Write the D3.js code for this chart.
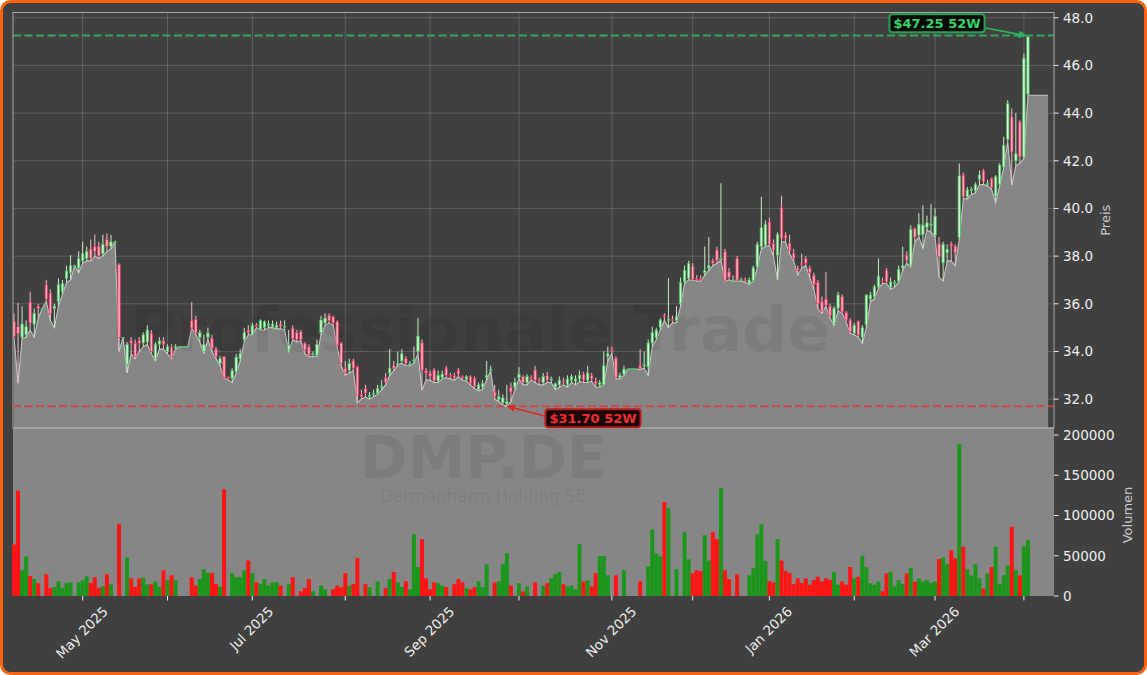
<!DOCTYPE html>
<html><head><meta charset="utf-8">
<script src="https://cdn.jsdelivr.net/npm/d3@7"></script>
<style>body{margin:0;background:#ffffff;} svg{display:block;}</style>
</head><body><svg id="c" width="1147" height="675"></svg>
<script>
// ---------- DATA (one entry per trading day, Apr 2025 – Apr 2026) ----------
const opens = [35.25,35.05,34.6,34.7,36.07,35.15,35.9,35.8,36.8,36.45,35.8,36.1,36.5,37.07,37.3,37.6,37.5,37.8,37.9,38.3,
38.4,38.4,38.1,38.7,38.4,38.6,37.66,34.59,33.46,34.45,34.35,34.45,34.36,34.4,34.77,33.7,34.3,34.45,34.0,34.18,
34.15,34.2,34.2,34.2,35.3,35.35,34.6,34.0,34.6,34.55,34.1,33.5,33.78,32.9,32.88,33.15,33.7,34.5,34.9,34.73,
35.1,34.93,35.0,35.1,35.05,35.0,35.15,35.05,34.06,34.98,34.8,34.83,34.35,34.2,33.86,33.85,34.79,35.2,35.52,35.45,
35.25,34.35,33.3,33.22,33.63,33.35,32.2,32.45,32.1,32.2,32.25,32.5,32.9,33.1,33.4,33.45,33.6,33.7,33.45,33.6,
33.99,34.36,33.2,33.08,33.22,32.77,32.9,33.3,33.0,33.0,33.2,32.95,32.82,32.94,32.88,32.4,32.5,32.9,33.2,32.3,
32.0,31.85,31.8,32.5,32.5,32.9,32.95,32.7,32.9,33.22,32.8,32.7,33.0,32.8,32.5,32.6,32.75,32.6,32.8,32.75,
32.85,33.05,32.8,33.0,32.75,32.6,32.6,33.8,34.1,33.72,32.9,33.05,33.26,33.26,33.26,33.4,33.4,33.35,34.36,34.6,
35.02,35.5,35.3,35.35,35.29,36.0,36.92,37.06,37.58,37.05,37.05,37.3,37.5,37.8,38.25,37.85,38.18,37.34,37.0,37.91,
37.0,37.0,36.83,36.99,37.55,38.39,38.46,39.44,38.53,38.04,40.04,38.88,38.54,38.12,37.5,37.7,37.9,37.5,37.2,36.9,
36.1,36.2,35.9,35.19,35.82,36.3,35.64,35.32,34.77,35.25,34.6,35.11,36.2,36.29,36.71,36.95,37.41,36.69,36.85,36.95,
37.5,38.04,37.62,39.17,38.88,38.9,39.2,39.3,38.88,38.53,37.72,38.14,38.5,38.42,38.78,41.4,40.49,40.75,40.74,41.23,
41.58,41.0,41.26,40.52,41.02,41.74,42.9,43.84,42.0,43.63,42.16,44.8];
const highs = [35.6,36.04,35.9,35.3,36.5,35.8,36.0,35.8,37.0,36.6,36.0,37.07,37.0,37.6,38.04,37.6,38.2,38.6,38.4,38.7,
38.9,38.6,38.9,38.95,38.9,38.6,37.7,34.59,34.4,34.6,34.5,34.6,34.8,35.1,34.9,34.4,34.6,34.6,34.3,34.3,
34.3,34.2,34.2,34.2,36.08,35.5,34.9,34.7,35.0,34.7,34.2,33.8,33.8,32.95,33.3,33.9,34.1,35.0,35.1,35.2,
35.2,35.35,35.3,35.3,35.3,35.25,35.3,35.3,34.9,35.1,34.9,34.9,34.4,34.3,34.0,34.5,35.5,35.6,35.6,35.5,
35.3,34.4,33.6,33.7,33.7,33.4,32.4,32.6,32.3,32.4,32.6,32.8,33.1,34.1,33.6,34.0,34.1,33.8,33.6,34.2,
35.4,34.5,33.3,33.2,33.3,33.2,33.2,33.4,33.1,33.1,33.3,33.0,33.0,33.0,32.95,32.7,32.8,33.6,33.4,32.6,
32.4,32.2,32.6,32.7,32.9,33.35,33.0,33.05,33.0,33.4,32.9,33.1,33.15,32.95,32.7,32.95,32.9,33.0,33.05,33.0,
33.2,33.15,33.4,33.1,32.9,32.8,34.0,34.2,34.2,33.8,33.1,33.4,33.26,33.26,33.26,34.1,34.0,34.5,35.04,35.0,
35.4,35.6,37.08,35.5,35.9,37.1,37.6,37.8,37.7,37.2,37.2,38.4,38.8,37.9,38.4,41.06,38.3,37.5,37.2,38.0,
37.1,37.1,37.1,37.6,38.6,40.49,39.5,39.6,38.7,39.0,40.53,39.0,38.9,38.3,37.6,38.1,38.0,37.6,37.3,37.0,
36.3,37.34,36.0,35.9,36.5,36.4,35.7,35.4,35.2,35.3,35.1,36.4,36.5,36.8,37.9,37.1,37.5,37.1,37.0,37.6,
38.4,38.2,39.3,39.2,39.8,40.14,39.7,40.2,40.0,38.8,38.6,38.5,38.6,38.5,41.89,41.5,40.9,40.9,41.1,41.6,
41.65,41.2,41.3,41.4,41.9,43.0,44.54,44.2,44.0,43.7,46.5,47.25];
const lows = [34.6,32.67,34.55,34.6,34.9,34.6,35.4,35.8,36.1,35.3,35.0,35.9,36.4,36.9,37.0,37.6,37.3,37.7,37.8,37.8,
38.0,37.9,38.0,38.2,38.3,38.6,34.0,34.59,33.1,33.9,33.7,34.0,34.2,34.3,33.9,33.6,34.1,34.1,33.9,33.7,
34.1,34.2,34.2,34.2,34.98,34.7,34.4,33.93,34.5,34.0,33.7,33.4,32.88,32.8,32.69,33.1,33.6,34.4,34.7,34.7,
35.0,34.9,34.9,35.0,35.0,34.95,34.95,34.9,34.0,34.5,34.4,34.45,33.9,33.8,33.77,33.8,34.7,35.1,35.2,35.1,
34.2,33.4,33.0,33.1,33.2,31.85,32.0,32.1,32.0,32.1,32.2,32.4,32.6,33.0,33.2,33.43,33.5,33.4,33.4,33.5,
33.9,32.38,32.8,32.8,32.7,32.7,32.85,32.9,32.85,32.8,32.95,32.8,32.75,32.6,32.45,32.35,32.4,32.8,33.2,32.0,
31.9,31.75,31.7,31.9,32.4,32.85,32.6,32.6,32.8,32.7,32.6,32.6,32.7,32.7,32.4,32.5,32.6,32.5,32.7,32.6,
32.75,32.7,32.7,32.75,32.5,32.5,32.6,33.6,33.9,32.85,32.85,33.0,33.26,33.26,33.26,33.25,33.3,33.0,34.2,34.5,
34.9,35.3,35.0,35.2,35.2,35.9,36.85,37.0,37.0,36.95,36.95,37.2,37.4,37.6,37.7,37.83,36.95,37.0,36.95,36.95,
36.95,36.9,36.8,36.95,37.5,38.3,38.4,38.45,38.0,37.0,38.6,38.6,38.1,37.8,37.2,37.5,37.6,37.1,36.6,35.8,
35.6,35.9,35.4,35.1,35.7,35.6,35.25,34.75,34.7,34.6,34.34,35.0,36.1,36.2,36.65,36.85,36.85,36.6,36.7,36.9,
37.4,37.7,37.55,38.6,38.8,38.33,39.1,39.0,38.8,37.13,36.95,37.8,37.8,37.6,38.7,40.4,40.4,40.6,40.65,41.0,
41.0,40.95,40.8,40.24,40.95,41.7,42.8,40.98,41.8,41.89,42.1,44.75];
const closes = [34.62,34.76,35.15,35.05,35.2,35.6,35.8,35.8,36.2,35.57,35.9,36.8,36.85,37.37,37.6,37.6,37.9,38.1,38.2,37.9,
38.2,38.0,38.5,38.4,38.6,38.6,34.59,34.59,34.3,34.35,33.8,34.35,34.7,34.9,33.99,34.3,34.45,34.3,34.2,33.77,
34.2,34.2,34.2,34.2,34.98,34.77,34.8,34.3,34.77,34.14,33.8,33.7,32.9,32.85,33.19,33.76,33.9,34.8,34.8,35.1,
35.05,35.29,35.25,35.15,35.15,35.1,35.05,35.05,34.27,34.55,34.5,34.5,34.06,33.86,33.9,34.3,35.32,35.4,35.29,35.2,
34.27,33.5,33.1,33.5,33.3,32.17,32.1,32.25,32.17,32.25,32.45,32.55,32.7,33.3,33.3,33.5,33.9,33.5,33.5,33.65,
34.65,33.22,33.1,32.97,32.77,33.0,33.05,33.0,32.95,32.9,33.05,32.9,32.95,32.67,32.52,32.6,32.65,33.0,33.25,32.1,
32.1,32.05,31.9,32.3,32.7,33.05,32.7,32.95,32.85,32.8,32.75,32.95,32.8,32.85,32.65,32.8,32.7,32.85,32.95,32.85,
33.0,32.8,33.1,32.85,32.65,32.7,33.4,33.9,34.05,32.9,33.0,33.26,33.26,33.26,33.26,33.3,33.45,34.36,34.8,34.9,
35.32,35.45,35.35,35.3,35.46,36.9,37.41,37.69,37.03,37.0,37.0,37.4,37.6,37.7,37.83,37.9,36.99,37.1,37.0,36.99,
37.0,36.95,37.0,37.51,38.49,39.2,39.34,38.5,38.25,38.91,38.74,38.75,38.22,37.9,37.4,37.65,37.7,37.3,36.8,36.0,
35.7,35.94,35.5,35.82,36.37,35.66,35.32,34.83,35.1,34.69,35.0,36.37,36.37,36.71,37.16,36.92,36.92,36.92,36.9,37.44,
37.6,37.83,39.12,38.8,39.34,39.3,39.4,39.35,39.68,37.97,38.5,38.28,38.42,38.14,41.37,40.49,40.77,40.8,41.02,41.4,
41.12,41.05,40.88,41.33,41.82,42.65,44.4,42.37,42.3,42.16,46.3,47.2];
const volumes = [64000,131000,32000,49000,25000,21000,16000,0,27000,10000,11200,18300,10000,16000,17000,0,17000,19500,24500,16200,
23300,10000,12000,27000,14600,0,89200,0,48000,22000,11200,22000,23000,14600,14600,18000,11200,32000,19500,25700,
19500,0,0,0,23300,13000,21000,33200,29000,28500,14600,11200,132500,0,28500,23300,23300,32000,44000,28500,
17000,14600,21000,13000,17000,17000,13000,0,14600,23300,0,5800,10000,21000,5800,0,13000,8300,0,8300,
13000,11000,28500,13000,14600,47000,0,14600,11000,0,18000,0,10000,21000,29800,17000,11200,18300,8300,76800,
36000,70600,22000,8300,17000,16000,13000,11200,0,14600,21000,17000,9600,8300,11000,18300,11000,39400,0,17000,
18300,39400,53000,13000,0,16000,5800,12000,0,17000,0,13000,16000,22000,27000,29800,14600,12000,13000,8300,
64300,18300,19500,12000,28500,49400,49400,25700,0,25700,0,32000,0,0,0,18300,0,37000,82500,53000,
49400,116800,109000,0,33200,0,79300,45700,28500,32000,31000,75600,44000,79300,70600,134000,32000,21000,0,27000,
0,0,25700,34400,76800,89200,43500,18300,17000,70600,44000,31000,28500,14600,22000,16000,22000,14000,20000,24000,
18000,22000,20000,30000,14000,18000,14000,36000,22000,24000,50000,36000,16000,14000,18000,6000,28000,30000,12000,20000,
15000,28000,35000,18000,22000,18000,20000,16000,18000,46000,48000,40000,57000,47000,188800,61000,33200,25700,39400,22000,
9200,28000,36000,61000,14600,25700,38200,85900,32000,25700,61800,69400];
// month ticks (trading-day index of first session of each month)
const monthTickIdx = [17,38,59,82,103,125,148,168,187,208,228,250];
const monthTickLabels = ["May 2025","","Jul 2025","","Sep 2025","","Nov 2025","","Jan 2026","","Mar 2026",""];
const priceTicks = [32,34,36,38,40,42,44,46,48];
const volumeTicks = [0,50000,100000,150000,200000];
const high52 = 47.25, low52 = 31.70;
const high52Idx = 251, low52Idx = 122;
const areaPadBars = 5;
const watermark = "Professionale Trade";
const ticker = "DMP.DE", company = "Dermapharm Holding SE";

// ---------- LAYOUT ----------
const W = 1147, H = 675;
const L = 13, R = 1054;
const pTop = 12.5, pBot = 428, vTop = 428, vBot = 596;
const FONT = "DejaVu Sans, sans-serif";
const BG = "#404040", AREA = "#868686";

const svg = d3.select("#c");
const n = closes.length;
const x = d3.scaleLinear().domain([-0.25, 257.45]).range([L, R]);
const y = d3.scaleLinear().domain([30.79, 48.22]).range([pBot, pTop]);
const yv = d3.scaleLinear().domain([0, 208700]).range([vBot, vTop]);

// background with orange rounded frame
svg.append("rect").attr("x",1.5).attr("y",1.5).attr("width",W-3).attr("height",H-3)
  .attr("rx",9).attr("fill",BG).attr("stroke","#fa6410").attr("stroke-width",3);

const defs = svg.append("defs");
defs.append("clipPath").attr("id","pclip").append("rect").attr("x",L).attr("y",pTop).attr("width",R-L).attr("height",pBot-pTop);

// ---------- PRICE PANEL ----------
const gp = svg.append("g").attr("clip-path","url(#pclip)");
gp.selectAll("line.hg").data(priceTicks).join("line")
  .attr("x1",L).attr("x2",R).attr("y1",d=>y(d)).attr("y2",d=>y(d))
  .attr("stroke","#ffffff").attr("stroke-opacity",0.17).attr("stroke-width",1);
gp.selectAll("line.vg").data(monthTickIdx).join("line")
  .attr("x1",d=>x(d)).attr("x2",d=>x(d)).attr("y1",pTop).attr("y2",pBot)
  .attr("stroke","#ffffff").attr("stroke-opacity",0.17).attr("stroke-width",1);

// area under lows
const areaPts = lows.map((l,i)=>[i,l]);
areaPts.push([n-1+areaPadBars, lows[n-1]]);
const area = d3.area().x(d=>x(d[0])).y0(pBot).y1(d=>y(d[1]));
const line = d3.line().x(d=>x(d[0])).y(d=>y(d[1]));
gp.append("path").datum(areaPts).attr("d",area).attr("fill",AREA);
gp.append("path").datum(areaPts).attr("d",line).attr("fill","none")
  .attr("stroke","#c4c4c4").attr("stroke-width",1.1);

// watermark
gp.append("text").attr("x",480).attr("y",351).attr("text-anchor","middle")
  .attr("font-family",FONT).attr("font-weight","bold").attr("font-size",62)
  .attr("textLength",700).attr("lengthAdjust","spacingAndGlyphs")
  .attr("fill","#000").attr("fill-opacity",0.07).text(watermark);

// candles
const bw = 2.4;
const cg = gp.append("g");
const idx = d3.range(n);
cg.selectAll("line.w").data(idx).join("line")
  .attr("x1",i=>x(i)).attr("x2",i=>x(i)).attr("y1",i=>y(highs[i])).attr("y2",i=>y(lows[i]))
  .attr("stroke",i=>closes[i]>=opens[i]?"#c9e8c9":"#ecc2cb").attr("stroke-width",1);
cg.selectAll("rect.b").data(idx).join("rect")
  .attr("x",i=>x(i)-bw/2).attr("width",bw)
  .attr("y",i=>y(Math.max(opens[i],closes[i])))
  .attr("height",i=>Math.max(0.6,Math.abs(y(opens[i])-y(closes[i]))))
  .attr("fill",i=>closes[i]>=opens[i]?"#d6f2d6":"#f6b3c2")
  .attr("stroke",i=>closes[i]>=opens[i]?"#45c05a":"#e8325e").attr("stroke-width",0.8);

// 52W lines
gp.append("line").attr("x1",L).attr("x2",R).attr("y1",y(high52)).attr("y2",y(high52))
  .attr("stroke","#33a85c").attr("stroke-width",2).attr("stroke-dasharray","8,3.5");
gp.append("line").attr("x1",L).attr("x2",R).attr("y1",y(low52)).attr("y2",y(low52))
  .attr("stroke","#d83c3c").attr("stroke-opacity",0.85).attr("stroke-width",2).attr("stroke-dasharray","8,3.5");

// price panel frame
svg.append("rect").attr("x",L).attr("y",pTop).attr("width",R-L).attr("height",pBot-pTop)
  .attr("fill","none").attr("stroke","#a8a8a8").attr("stroke-width",1);

// ---------- VOLUME PANEL ----------
svg.append("rect").attr("x",L).attr("y",vTop).attr("width",R-L).attr("height",vBot-vTop).attr("fill",AREA);
svg.append("text").attr("x",483).attr("y",478).attr("text-anchor","middle")
  .attr("font-family",FONT).attr("font-weight","bold").attr("font-size",58)
  .attr("textLength",247).attr("lengthAdjust","spacingAndGlyphs")
  .attr("fill","#000").attr("fill-opacity",0.07).text(ticker);
svg.append("text").attr("x",483).attr("y",502).attr("text-anchor","middle")
  .attr("font-family",FONT).attr("font-size",18)
  .attr("textLength",206).attr("lengthAdjust","spacingAndGlyphs")
  .attr("fill","#000").attr("fill-opacity",0.07).text(company);
const vbw = 4;
svg.append("g").selectAll("rect").data(idx.filter(i=>volumes[i]>0)).join("rect")
  .attr("x",i=>x(i)-vbw/2).attr("width",vbw)
  .attr("y",i=>yv(volumes[i])).attr("height",i=>vBot-yv(volumes[i]))
  .attr("fill",i=>closes[i]>=opens[i]?"#1b961b":"#ff1414");
svg.append("line").attr("x1",L).attr("x2",R).attr("y1",pBot).attr("y2",pBot)
  .attr("stroke","#a8a8a8").attr("stroke-width",1.6);

// ---------- AXES ----------
const tickCol = "#eeeeee", fs = 13.5;
const pa = svg.append("g");
pa.selectAll("line").data(priceTicks).join("line")
  .attr("x1",R).attr("x2",R+4.5).attr("y1",d=>y(d)).attr("y2",d=>y(d)).attr("stroke",tickCol);
pa.selectAll("text").data(priceTicks).join("text")
  .attr("x",R+9).attr("y",d=>y(d)).attr("dy","0.36em")
  .attr("font-family",FONT).attr("font-size",fs).attr("fill",tickCol).text(d=>d3.format(".1f")(d));
const va = svg.append("g");
va.selectAll("line").data(volumeTicks).join("line")
  .attr("x1",R).attr("x2",R+4.5).attr("y1",d=>yv(d)).attr("y2",d=>yv(d)).attr("stroke",tickCol);
va.selectAll("text").data(volumeTicks).join("text")
  .attr("x",R+9).attr("y",d=>yv(d)).attr("dy","0.36em")
  .attr("font-family",FONT).attr("font-size",fs).attr("fill",tickCol).text(d=>d3.format("d")(d));
svg.append("text").attr("transform",`translate(1110,${(pTop+pBot)/2}) rotate(-90)`)
  .attr("text-anchor","middle").attr("font-family",FONT).attr("font-size",13).attr("fill","#cccccc").text("Preis");
svg.append("text").attr("transform",`translate(1132,${(vTop+vBot)/2+3}) rotate(-90)`)
  .attr("text-anchor","middle").attr("font-family",FONT).attr("font-size",13).attr("fill","#cccccc").text("Volumen");

const xa = svg.append("g");
xa.selectAll("line").data(monthTickIdx).join("line")
  .attr("x1",d=>x(d)).attr("x2",d=>x(d)).attr("y1",vBot).attr("y2",vBot+4.5).attr("stroke",tickCol);
xa.selectAll("text").data(monthTickIdx).join("text")
  .attr("text-anchor","middle").attr("dominant-baseline","central")
  .attr("font-family",FONT).attr("font-size",fs).attr("fill",tickCol)
  .text((d,i)=>monthTickLabels[i])
  .each(function(d){
    const w = this.getComputedTextLength();
    const hh = (w+fs)*Math.SQRT1_2;
    d3.select(this).attr("transform",`translate(${x(d)-1},${604+hh/2}) rotate(-45)`);
  });

// ---------- ANNOTATIONS ----------
function marker(id,col){
  defs.append("marker").attr("id",id).attr("viewBox","0 0 10 10").attr("refX",9).attr("refY",5)
    .attr("markerWidth",8).attr("markerHeight",8).attr("markerUnits","userSpaceOnUse").attr("orient","auto")
    .append("path").attr("d","M0,0L10,5L0,10Z").attr("fill",col);
}
marker("ag","#2fb45a"); marker("ar","#e02828");
function label(txt,cx,cy,fill,stroke,tcol){
  const g = svg.append("g");
  const t = g.append("text").attr("x",cx).attr("y",cy).attr("dy","0.36em").attr("text-anchor","middle")
    .attr("font-family",FONT).attr("font-weight","bold").attr("font-size",13).attr("fill",tcol).text(txt);
  const bb = t.node().getBBox();
  g.insert("rect","text").attr("x",bb.x-4).attr("y",bb.y-1.5).attr("width",bb.width+8).attr("height",bb.height+3)
    .attr("rx",3).attr("fill",fill).attr("stroke",stroke).attr("stroke-width",2);
  return bb;
}
const gb = label("$"+high52.toFixed(2)+" 52W",937,23,"#050a05","#2a9d50","#37d46a");
svg.append("line").attr("x1",gb.x+gb.width+5).attr("y1",28).attr("x2",x(high52Idx)-2).attr("y2",y(high52))
  .attr("stroke","#2fb45a").attr("stroke-width",1.6).attr("marker-end","url(#ag)");
const rb = label("$"+low52.toFixed(2)+" 52W",593,418,"#1c0606","#b82020","#f03030");
svg.append("line").attr("x1",rb.x-5).attr("y1",416).attr("x2",x(low52Idx)+1).attr("y2",y(low52))
  .attr("stroke","#e02828").attr("stroke-width",1.6).attr("marker-end","url(#ar)");
</script></body></html>
